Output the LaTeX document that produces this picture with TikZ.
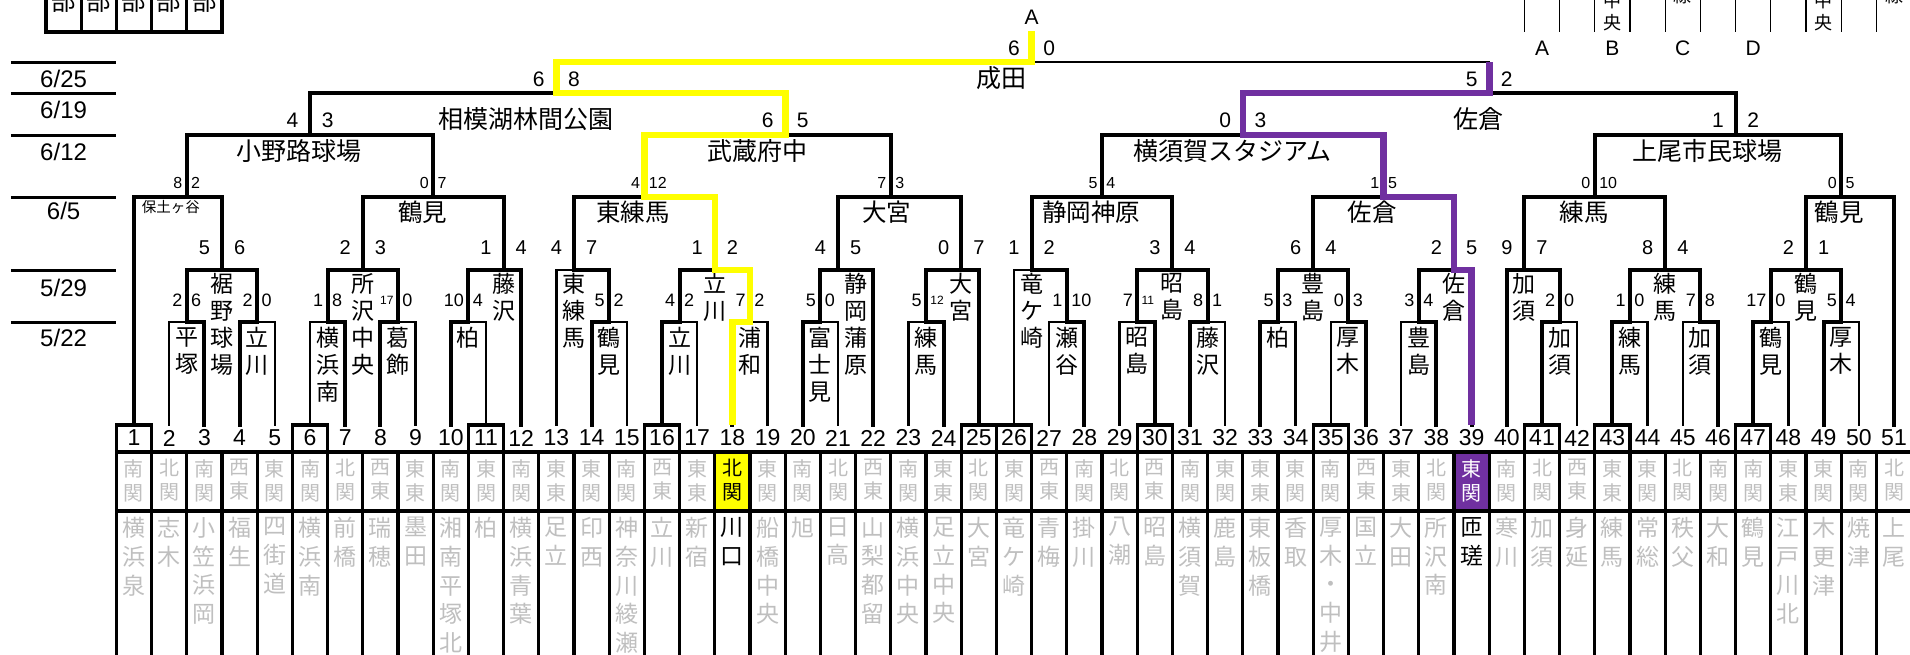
\documentclass[tikz,border=0pt]{standalone}
\usepackage{fontspec}
\setmainfont{Liberation Sans}
\newfontfamily\jp{Noto Sans CJK JP}
\definecolor{lgray}{RGB}{191,191,191}
\definecolor{purp}{RGB}{112,48,160}
\definecolor{yel}{RGB}{255,255,0}
% stack the characters of a word one under the other
\makeatletter
\def\vtEnd{\vtEnd}
\def\vt#1{\expandafter\vtA#1\vtEnd}
\def\vtA#1{\ifx#1\vtEnd\expandafter\@gobble\else\expandafter\@firstofone\fi{#1\vtB}}
\def\vtB#1{\ifx#1\vtEnd\expandafter\@gobble\else\expandafter\@firstofone\fi{\\#1\vtB}}
\makeatother
\newcommand\sm[1]{{\fontsize{6}{6}\selectfont #1}}
\tikzset{
    br/.style={line cap=rect},
    rule/.style={line width=1.6pt},
    route/.style={line width=3.3pt, line join=miter},
    sc0/.style={inner sep=0pt, font=\fontsize{9}{9}\selectfont},
    sc1/.style={inner sep=0pt, font=\fontsize{10}{10}\selectfont},
    sc2/.style={inner sep=0pt, font=\fontsize{8}{8}\selectfont},
    sc3/.style={inner sep=0pt, font=\fontsize{10.5}{10.5}\selectfont},
    vert/.style={anchor=north, inner sep=0pt, align=center, font=\jp\fontsize{11.5}{13.5}\selectfont},
    hall/.style={inner sep=0pt, font=\jp\fontsize{12.25}{12.25}\selectfont},
    num/.style={inner sep=0pt, font=\fontsize{11.5}{11.5}\selectfont},
    cat/.style={anchor=north, inner sep=0pt, align=center, font=\jp\fontsize{10}{12}\selectfont},
    team/.style={anchor=north, inner sep=0pt, align=center, font=\jp\fontsize{11.5}{14.35}\selectfont},
    date/.style={inner sep=0pt, font=\fontsize{12}{12}\selectfont}}
% one bout: y, left x, left foot, right x, right foot, stub x, winner (1 left, 2 right)
% a school that loses its first bout gets a thin line
\newcommand\bout[7]{%
    \pgfmathsetmacro\va{(#7==1 || #3<400) ? 2 : 1.15}%
    \pgfmathsetmacro\vb{(#7==2 || #5<400) ? 2 : 1.15}%
    \draw[br, line width=\va pt] (#2,#3) -- (#2,#1) -- (#6,#1);
    \draw[br, line width=\vb pt] (#4,#5) -- (#4,#1) -- (#6,#1);}
\begin{document}
\begin{tikzpicture}[x=8.8pt, y=-0.5pt]
\useasboundingbox (-7.6136,0) rectangle (100.909,654);

%header pieces at the top
\draw[rule] (-5,-10) -- (-5,32) -- (5,32) -- (5,-10);
\foreach \k in {-3,-1,1,3} \draw[rule] (\k,-10) -- (\k,32);
\foreach \k [count=\i] in {-4,-2,0,2,4}
    \node[hall] (bu\i) at (\k,1) {部};
\foreach \k in {79,81,...,99} \draw[line width=0.6pt] (\k,-10) -- (\k,32);
\node[cat, anchor=center, font=\jp\fontsize{9}{11}\selectfont] (hc1) at (84,12) {中\\央};
\node[cat, anchor=center, font=\jp\fontsize{9}{11}\selectfont] (hc2) at (96,12) {中\\央};
\node[hall, font=\jp\fontsize{9}{9}\selectfont] (hl1) at (88,-4) {線};
\node[hall, font=\jp\fontsize{9}{9}\selectfont] (hl2) at (100,-4) {線};
\foreach \l/\k in {A/80,B/84,C/88,D/92}
    \node[sc3] (h\l) at (\k,48) {\l};
\node[sc3] (top) at (51,17.5) {A};

%dates
\foreach \y in {62,93,135,197,270,322} \draw[line width=1.5pt] (-7,\y) -- (-1,\y);
\foreach \dt/\y [count=\i] in {{6/25}/79,{6/19}/110,{6/12}/152,{6/5}/211,{5/29}/288,{5/22}/338}
    \node[date] (d\i) at (-4,\y) {\dt};

%first round
\foreach \pa/\pb/\w/\sa/\sb/\vn in {2/4/2/2/6/平塚, 6/8/1/2/0/立川, 10/12/2/1/8/横浜南,
    14/16/1/\sm{17}/0/葛飾, 18/20/1/10/4/柏, 26/28/1/5/2/鶴見, 30/32/1/4/2/立川,
    34/36/1/7/2/浦和, 38/40/1/5/0/富士見, 44/46/2/5/\sm{12}/練馬, 52/54/2/1/10/瀬谷,
    56/58/2/7/\sm{11}/昭島, 60/62/1/8/1/藤沢, 64/66/1/5/3/柏, 68/70/2/0/3/厚木,
    72/74/2/3/4/豊島, 80/82/1/2/0/加須, 84/86/1/1/0/練馬, 88/90/2/7/8/加須,
    92/94/1/17/0/鶴見, 96/98/1/5/4/厚木}{
    \pgfmathtruncatemacro\s{(\pa+\pb)/2}
    \bout{322}{\pa}{425}{\pb}{425}{\s}{\w}
    \node[sc0, anchor=east] (r0l\s) at (\s-0.23,300) {\sa};
    \node[sc0, anchor=west] (r0r\s) at (\s+0.23,300) {\sb};
    \node[vert] (r0v\s) at (\s,327) {\vt\vn};
}

%second round
\foreach \pa/\ya/\pb/\yb/\s/\w/\sa/\sb/\tx/\vn in {3/322/7/322/5/2/5/6/5/裾野球場,
    11/322/15/322/13/2/2/3/13/所沢中央, 19/322/22/425/21/2/1/4/21/藤沢,
    24/425/27/322/25/2/4/7/25/東練馬, 31/322/35/322/33/2/1/2/33/立川,
    39/322/42/425/40/2/4/5/41/静岡蒲原, 45/322/48/425/47/2/0/7/47/大宮,
    50/425/53/322/51/2/1/2/51/竜ケ崎, 57/322/61/322/59/2/3/4/59/昭島,
    65/322/69/322/67/1/6/4/67/豊島, 73/322/76/425/75/2/2/5/75/佐倉,
    78/425/81/322/79/1/9/7/79/加須, 85/322/89/322/87/1/8/4/87/練馬,
    93/322/97/322/95/1/2/1/95/鶴見}{
    \bout{270}{\pa}{\ya}{\pb}{\yb}{\s}{\w}
    \node[sc1] (r1l\s) at (\s-1,248) {\sa};
    \node[sc1] (r1r\s) at (\s+1,248) {\sb};
    \node[vert] (r1v\s) at (\tx,273) {\vt\vn};
}

%third round
\bout{197}{0}{425}{5}{270}{3}{1}
\node[sc2, anchor=east] (r2l3) at (3-0.23,183) {8};
\node[sc2, anchor=west] (r2r3) at (3+0.23,183) {2};
\node[hall, font=\jp\fontsize{7.25}{7.25}\selectfont] (r2v3) at (2.1,207.5) {保土ヶ谷};
\foreach \pa/\ya/\pb/\yb/\s/\w/\sa/\sb/\tx/\vn in {13/270/21/270/17/2/0/7/16.42/鶴見,
    25/270/33/270/29/2/4/12/28.35/東練馬, 40/270/47/270/43/1/7/3/42.78/大宮,
    51/270/59/270/55/1/5/4/54.38/静岡神原, 67/270/75/270/71/2/1/5/70.34/佐倉,
    79/270/87/270/83/2/0/10/82.39/練馬, 95/270/100/425/97/2/0/5/96.88/鶴見}{
    \bout{197}{\pa}{\ya}{\pb}{\yb}{\s}{\w}
    \node[sc2, anchor=east] (r2l\s) at (\s-0.23,183) {\sa};
    \node[sc2, anchor=west] (r2r\s) at (\s+0.23,183) {\sb};
    \node[hall] (r2v\s) at (\tx,212) {\vn};
}

%later rounds
\foreach \y/\sy/\vy/\pa/\pb/\s/\w/\sa/\sb/\tx/\vn in {135/120/151/3/17/10/1/4/3/9.4/小野路球場,
    135/120/151/29/43/37/1/6/5/35.4/武蔵府中, 135/120/151/55/71/63/2/0/3/62.4/横須賀スタジアム,
    135/120/151/83/97/91/2/1/2/89.4/上尾市民球場,
    93/79/119/10/37/24/2/6/8/22.3/相模湖林間公園, 93/79/119/63/91/77/1/5/2/76.4/佐倉}{
    \pgfmathtruncatemacro\yc{\y<100 ? 135 : 197}
    \bout{\y}{\pa}{\yc}{\pb}{\yc}{\s}{\w}
    \node[sc3] (r\y l\s) at (\s-1,\sy) {\sa};
    \node[sc3] (r\y r\s) at (\s+1,\sy) {\sb};
    \node[hall, font=\jp\fontsize{12.5}{12.5}\selectfont] (r\y v\s) at (\tx,\vy) {\vn};
}

%final, drawn thin
\draw[br, line width=1.15pt] (24,93) -- (24,62) -- (77,62) -- (77,93);
\node[sc3] (r62l51) at (50,48) {6};
\node[sc3] (r62r51) at (52,48) {0};
\node[hall, font=\jp\fontsize{12.5}{12.5}\selectfont] (r62v51) at (49.3,78) {成田};

%winners' routes
\draw[route, yel] (34,425) |- (35,322) |- (33,270) |- (29,197) |- (37,135) |- (24,93) |- (51,62) -- (51,31);
\draw[route, purp] (76,425) |- (75,270) |- (71,197) |- (63,135) |- (77,93) -- (77,62);

%table under the bracket
\fill[yel] (33,452) rectangle (35,511);
\fill[purp] (75,452) rectangle (77,511);
\foreach \i in {1,6,11,16,25,26,30,35,41,43,47}
    \draw[rule] ({2*\i-3},425) rectangle ({2*\i-1},452);
\draw[rule] (-1,452) -- (102,452) (-1,511) -- (102,511);
\foreach \k in {-1,1,...,101} \draw[rule] (\k,452) -- (\k,660);
\foreach \i in {1,...,51} \node[num] (n\i) at ({2*\i-2},438) {\i};
\foreach \ct [count=\i] in {南関,北関,南関,西東,東関,南関,北関,西東,東東,南関,東関,南関,東東,
    東関,南関,西東,東東,北関,東関,南関,北関,西東,南関,東東,北関,東関,西東,南関,北関,西東,
    南関,東関,東東,東関,南関,西東,東東,北関,東関,南関,北関,西東,東東,東関,北関,南関,南関,
    東東,東関,南関,北関}{
    \ifnum\i=18 \def\cc{black}\else\ifnum\i=39 \def\cc{white}\else\def\cc{lgray}\fi\fi
    \node[cat, text=\cc] (c\i) at ({2*\i-2},459) {\vt\ct};
}
\foreach \nm [count=\i] in {横浜泉,志木,小笠浜岡,福生,四街道,横浜南,前橋,瑞穂,墨田,湘南平塚北,
    柏,横浜青葉,足立,印西,神奈川綾瀬,立川,新宿,川口,船橋中央,旭,日高,山梨都留,横浜中央,
    足立中央,大宮,竜ケ崎,青梅,掛川,八潮,昭島,横須賀,鹿島,東板橋,香取,厚木・中井,国立,大田,
    所沢南,匝瑳,寒川,加須,身延,練馬,常総,秩父,大和,鶴見,江戸川北,木更津,焼津,上尾}{
    \ifnum\i=18 \def\cc{black}\else\ifnum\i=39 \def\cc{black}\else\def\cc{lgray}\fi\fi
    \node[team, text=\cc] (t\i) at ({2*\i-2},517) {\vt\nm};
}
\end{tikzpicture}
\end{document}
